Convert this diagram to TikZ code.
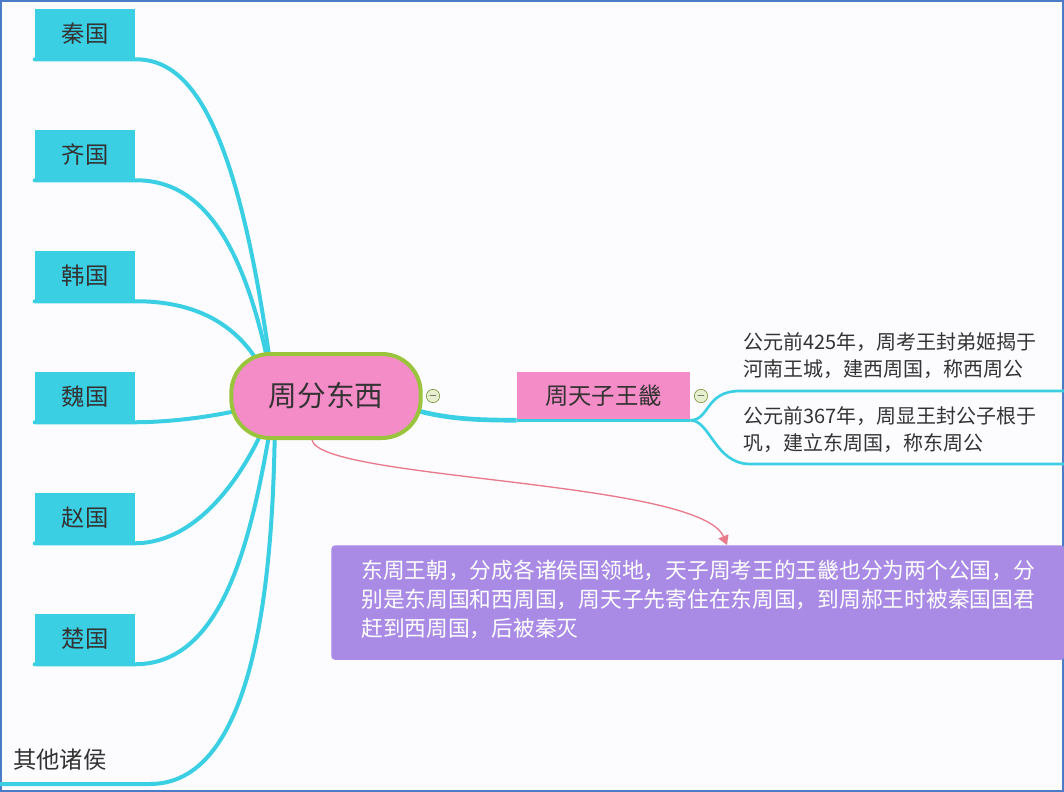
\documentclass[tikz,border=0pt]{standalone}
\usepackage{fontspec}
\setmainfont{Noto Sans CJK SC}
\usetikzlibrary{arrows.meta}
\definecolor{cy}{HTML}{3BCFE4}
\definecolor{pk}{HTML}{F48CC8}
\definecolor{gr}{HTML}{9AC43C}
\definecolor{pu}{HTML}{A98BE6}
\definecolor{ar}{HTML}{E87A8A}
\definecolor{tx}{HTML}{333333}
\tikzset{
 st/.style={fill=cy,text=tx,minimum width=75pt,minimum height=37.5pt,inner sep=0pt,font=\fontsize{17.5}{19}\selectfont},
 br/.style={draw=cy,line width=3pt,line cap=round},
 thin/.style={draw=cy,line width=2pt},
 mk/.style={circle,draw=gr!70!black,fill=gr!25,minimum size=10pt,inner sep=0pt,font=\fontsize{8}{8}\selectfont},
 note/.style={text=tx,align=left,anchor=north west,inner sep=0pt,font=\fontsize{15}{20.5}\selectfont}
}
\begin{document}
\begin{tikzpicture}[x=0.75pt,y=-0.75pt]
\useasboundingbox (0,0) rectangle (1064,792);
\fill[white!99!blue] (0,0) rectangle (1064,792);
\draw[color={rgb,255:red,74;green,124;blue,199},line width=1.5pt] (1,1) rectangle (1063,791);
% left stubs
\node[st] (q) at (85,34) {秦国};
\node[st] (qi) at (85,155) {齐国};
\node[st] (h) at (85,276) {韩国};
\node[st] (w) at (85,397) {魏国};
\node[st] (z) at (85,518) {赵国};
\node[st] (c) at (85,639) {楚国};
\node[text=tx,anchor=west,font=\fontsize{17.5}{19}\selectfont,inner sep=0pt] (o) at (13,760) {其他诸侯};
\coordinate (oe) at (0,784);
\coordinate (hub) at (275,400);
\draw[br] (hub) .. controls (240,120) and (190,59) .. (q.south east) -- (q.south west);
\draw[br] (hub) .. controls (245,220) and (190,180) .. (qi.south east) -- (qi.south west);
\draw[br] (hub) .. controls (250,320) and (190,301) .. (h.south east) -- (h.south west);
\draw[br] (hub) .. controls (250,410) and (190,422) .. (w.south east) -- (w.south west);
\draw[br] (hub) .. controls (250,470) and (200,543) .. (z.south east) -- (z.south west);
\draw[br] (hub) .. controls (255,520) and (230,664) .. (c.south east) -- (c.south west);
\draw[br] (hub) .. controls (275,600) and (250,784) .. (150,784) -- (oe);
% right branch
\node[fill=pk,text=tx,minimum width=130pt,minimum height=36pt,inner sep=0pt,font=\fontsize{17.5}{19}\selectfont] (k) at (603.5,396) {周天子王畿};
\draw[cy,line width=3.5pt] (400,405) .. controls (440,420) and (480,420) .. (k.south west);
\draw[cy,line width=2pt] (k.south west) -- (k.south east);
\coordinate (u1) at (1064,391);
\coordinate (u2) at (1064,464);
\draw[thin] (k.south east) .. controls (710,420) and (705,391) .. (740,391) -- (u1);
\draw[thin] (k.south east) .. controls (710,420) and (715,464) .. (750,464) -- (u2);
\node[note] (t1) at (743,332) {公元前425年，周考王封弟姬揭于\\河南王城，建西周国，称西周公};
\node[note] (t2) at (743,406) {公元前367年，周显王封公子根于\\巩，建立东周国，称东周公};
% center
\node[draw=gr,line width=3pt,fill=pk,rounded corners=29pt,minimum width=142pt,minimum height=63pt,text=tx,font=\fontsize{21.5}{23}\selectfont] (ctr) at (326,396) {周分东西};
\node[mk] (m1) at (433,396) {$-$};
\node[mk] (m2) at (701,396) {$-$};
% purple note
\node[fill=pu,rounded corners=3pt,minimum width=550pt,minimum height=86pt,anchor=north west,inner sep=0pt] (p) at (331,545) {};
\node[text=white,align=left,anchor=north west,inner sep=0pt,font=\fontsize{16.3}{21.8}\selectfont] (pt) at (361,560) {东周王朝，分成各诸侯国领地，天子周考王的王畿也分为两个公国，分\\别是东周国和西周国，周天子先寄住在东周国，到周郝王时被秦国国君\\赶到西周国，后被秦灭};
\coordinate (ae) at (727,545);
\draw[ar,line width=1pt,-{Triangle[length=7pt,width=8pt]}] (312,440) .. controls (320,480) and (700,480) .. (ae);
\end{tikzpicture}
\end{document}
